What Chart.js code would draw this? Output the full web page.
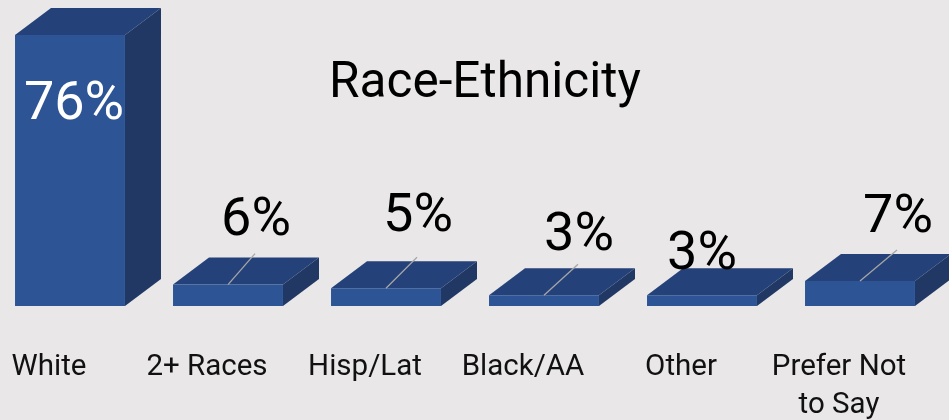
<!DOCTYPE html>
<html>
<head>
<meta charset="utf-8">
<title>Race-Ethnicity</title>
<script src="https://cdn.jsdelivr.net/npm/chart.js@4/dist/chart.umd.min.js"></script>
<style>
    html, body { margin: 0; width: 949px; height: 420px; overflow: hidden; background: #e9e7e8; }
    #chart { position: absolute; left: -9px; top: 0; }
</style>
</head>
<body>
<canvas id="chart" width="967" height="420"></canvas>
<script>
// ---- data ----
const categories = ['White', '2+ Races', 'Hisp/Lat', 'Black/AA', 'Other', ['Prefer Not', 'to Say']];
const percentValues = [76, 6, 5, 3, 3, 7];
const chartTitle = 'Race-Ethnicity';

// label placement relative to the top centre of each bar
const labelDx = [4, 28, 32, 35, 0, 38];
const labelDy = [70, -63, -71, -59, -40, -63];
const hasLeader = [false, true, true, true, false, true];

const DEPTH_X = 36;
const DEPTH_Y = 27;

function fillPoly(ctx, pts, color) {
    ctx.beginPath();
    pts.forEach((p, i) => i ? ctx.lineTo(p[0], p[1]) : ctx.moveTo(p[0], p[1]));
    ctx.closePath();
    ctx.fillStyle = color;
    ctx.fill();
}

// top and side faces sit behind the flat bar
const extrudePlugin = {
    id: 'extrude',
    beforeDatasetsDraw(chart) {
        const ctx = chart.ctx;
        chart.getDatasetMeta(0).data.forEach(bar => {
            const l = bar.x - bar.width / 2;
            const r = bar.x + bar.width / 2;
            fillPoly(ctx, [[l, bar.y], [l + DEPTH_X, bar.y - DEPTH_Y], [r + DEPTH_X, bar.y - DEPTH_Y], [r, bar.y]], '#244279');
            fillPoly(ctx, [[r, bar.y], [r + DEPTH_X, bar.y - DEPTH_Y], [r + DEPTH_X, bar.base - DEPTH_Y], [r, bar.base]], '#203863');
        });
    }
};

const labelPlugin = {
    id: 'valueLabels',
    afterDatasetsDraw(chart) {
        const ctx = chart.ctx;
        ctx.save();
        chart.getDatasetMeta(0).data.forEach((bar, i) => {
            if (hasLeader[i]) {
                ctx.beginPath();
                ctx.moveTo(bar.x, bar.y);
                ctx.lineTo(bar.x + labelDx[i] - 1, bar.y - 31);
                ctx.strokeStyle = '#a6a6a6';
                ctx.lineWidth = 1.3;
                ctx.stroke();
            }
            ctx.font = '54px Roboto';
            ctx.textAlign = 'center';
            ctx.textBaseline = 'middle';
            ctx.fillStyle = i === 0 ? '#ffffff' : '#000000';
            ctx.fillText(percentValues[i] + '%', bar.x + labelDx[i], bar.y + labelDy[i]);
        });
        ctx.font = '49.5px Roboto';
        ctx.textAlign = 'center';
        ctx.textBaseline = 'middle';
        ctx.fillStyle = '#000000';
        ctx.fillText(chartTitle, 494, 85);
        ctx.restore();
    }
};

new Chart(document.getElementById('chart').getContext('2d'), {
    type: 'bar',
    data: {
        labels: categories,
        datasets: [{
            data: percentValues,
            backgroundColor: '#2d5596',
            borderWidth: 0,
            categoryPercentage: 1,
            barPercentage: 0.696
        }]
    },
    plugins: [extrudePlugin, labelPlugin],
    options: {
        responsive: false,
        animation: false,
        layout: { padding: { top: 6.5, right: 19, left: 0, bottom: 0 } },
        plugins: {
            legend: { display: false },
            tooltip: { enabled: false }
        },
        scales: {
            x: {
                grid: { display: false },
                border: { display: false },
                afterFit(scale) {
                    scale.height = 114;
                    // stop the edge labels from squeezing the plot area
                    scale.paddingLeft = 0;
                    scale.paddingRight = 0;
                },
                ticks: {
                    color: '#111111',
                    font: { family: 'Roboto', size: 29.5, lineHeight: 1.29 },
                    padding: 35,
                    labelOffset: -21,
                    maxRotation: 0,
                    autoSkip: false
                }
            },
            y: {
                display: false,
                min: 0,
                max: 84
            }
        }
    }
});
</script>
</body>
</html>
